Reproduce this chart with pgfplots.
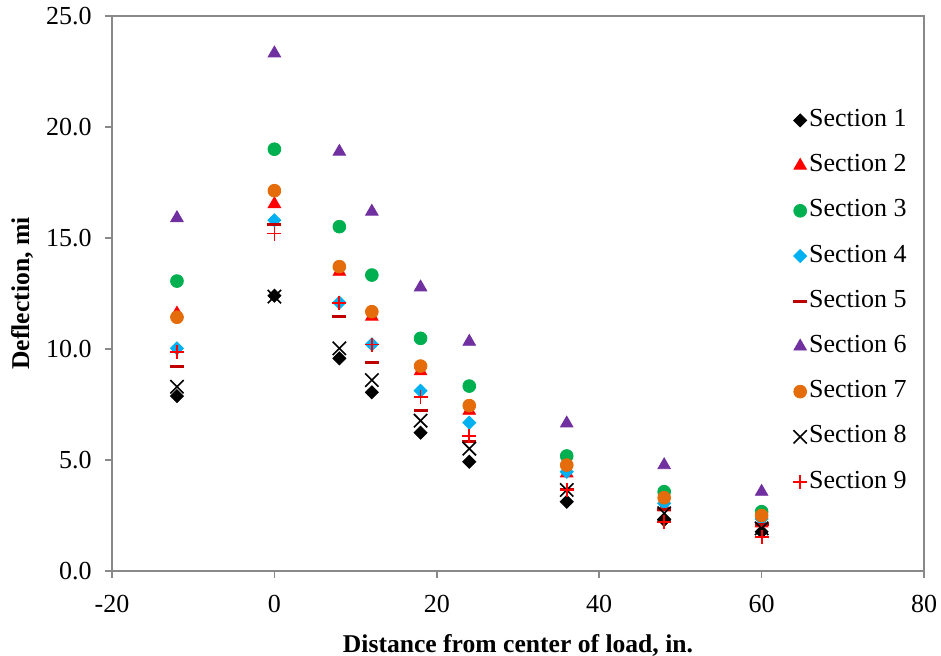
\documentclass[border=0pt]{standalone}
\usepackage{pgfplots}
\pgfplotsset{compat=1.18}
\usepackage{fontspec}
\setmainfont{Liberation Serif}
\definecolor{axgray}{HTML}{898989}
\definecolor{sred}{HTML}{FF0000}
\definecolor{sgreen}{HTML}{00B050}
\definecolor{scyan}{HTML}{00B0F0}
\definecolor{sdred}{HTML}{C00000}
\definecolor{spurple}{HTML}{7030A0}
\definecolor{sorange}{HTML}{E46C0A}
\begin{document}
\begin{tikzpicture}
\begin{axis}[
  scale only axis,
  width=406pt, height=277.5pt,
  xmin=-20, xmax=80, ymin=0, ymax=25,
  xtick={-20,0,20,40,60,80},
  ytick={0,5,10,15,20,25},
  yticklabel={\pgfmathprintnumber[fixed,fixed zerofill,precision=1]{\tick}},
  /pgf/number format/assume math mode=true,
  tick align=outside,
  tick pos=left,
  major tick length=3.5pt,
  axis line style={axgray, line width=0.75pt},
  every tick/.style={axgray, line width=0.75pt},
  tick label style={font=\fontsize{13}{15.6}\selectfont, black},
  xticklabel style={yshift=-5pt},
  yticklabel style={xshift=-3.2pt},
  label style={font=\fontsize{12.8}{15}\selectfont\bfseries},
  xlabel={Distance from center of load, in.},
  ylabel={Deflection, mi},
  xlabel style={at={(axis description cs:0.5,-0.135)}, anchor=center},
  ylabel style={at={(axis description cs:-0.1108,0.5)}, anchor=center},
  legend cell align=left,
  legend image code/.code={\draw[mark repeat=2,mark phase=2] plot coordinates {(0pt,0pt)(3.5pt,0pt)(9pt,0pt)};},
  legend style={at={(rel axis cs:0.831,0.845)}, anchor=north west, draw=none, fill=none,
    font=\fontsize{13}{15.6}\selectfont, row sep=8.6pt,
    nodes={text height=9pt, text depth=3pt, inner sep=1pt}},
]
\addplot[only marks, mark=square*, mark size=2.3pt, mark options={rotate=45, black, fill=black}] coordinates {(-12,7.88)(0,12.4)(8,9.58)(12,8.05)(18,6.23)(24,4.92)(36,3.12)(48,2.3)(60,1.77)};
\addlegendentry{Section 1}
\addplot[only marks, mark=triangle*, mark size=3.6pt, mark options={sred, fill=sred}] coordinates {(-12,11.6)(0,16.53)(8,13.48)(12,11.46)(18,9.0)(24,7.22)(36,4.4)(48,2.87)(60,2.15)};
\addlegendentry{Section 2}
\addplot[only marks, mark=*, mark size=3.2pt, mark options={sgreen, fill=sgreen}] coordinates {(-12,13.06)(0,19.0)(8,15.51)(12,13.33)(18,10.48)(24,8.33)(36,5.18)(48,3.57)(60,2.67)};
\addlegendentry{Section 3}
\addplot[only marks, mark=square*, mark size=2.3pt, mark options={rotate=45, scyan, fill=scyan}] coordinates {(-12,10.03)(0,15.8)(8,12.09)(12,10.21)(18,8.12)(24,6.68)(36,4.47)(48,3.05)(60,2.35)};
\addlegendentry{Section 4}
\addplot[only marks, mark=-, mark size=3.5pt, mark options={sdred, line width=1.5pt}] coordinates {(-12,9.23)(0,15.63)(8,11.47)(12,9.4)(18,7.25)(24,5.82)(36,3.66)(48,2.78)(60,2.1)};
\addlegendentry{Section 5}
\addplot[only marks, mark=triangle*, mark size=3.6pt, mark options={spurple, fill=spurple}] coordinates {(-12,15.9)(0,23.32)(8,18.89)(12,16.19)(18,12.78)(24,10.33)(36,6.65)(48,4.77)(60,3.57)};
\addlegendentry{Section 6}
\addplot[only marks, mark=*, mark size=3.2pt, mark options={sorange, fill=sorange}] coordinates {(-12,11.43)(0,17.13)(8,13.71)(12,11.68)(18,9.23)(24,7.45)(36,4.77)(48,3.3)(60,2.5)};
\addlegendentry{Section 7}
\addplot[only marks, mark=x, mark size=4.7pt, mark options={black, line width=0.8pt}] coordinates {(-12,8.3)(0,12.36)(8,10.03)(12,8.6)(18,6.77)(24,5.51)(36,3.65)(48,2.6)(60,1.92)};
\addlegendentry{Section 8}
\addplot[only marks, mark=+, mark size=3.5pt, mark options={sred, line width=0.9pt}] coordinates {(-12,9.88)(0,15.2)(8,12.07)(12,10.2)(18,7.82)(24,6.08)(36,3.66)(48,2.22)(60,1.52)};
\addlegendentry{Section 9}
\end{axis}
\pgfresetboundingbox
\useasboundingbox (-56pt,-42.5pt) rectangle (414.5pt,285.5pt);
\end{tikzpicture}
\end{document}
